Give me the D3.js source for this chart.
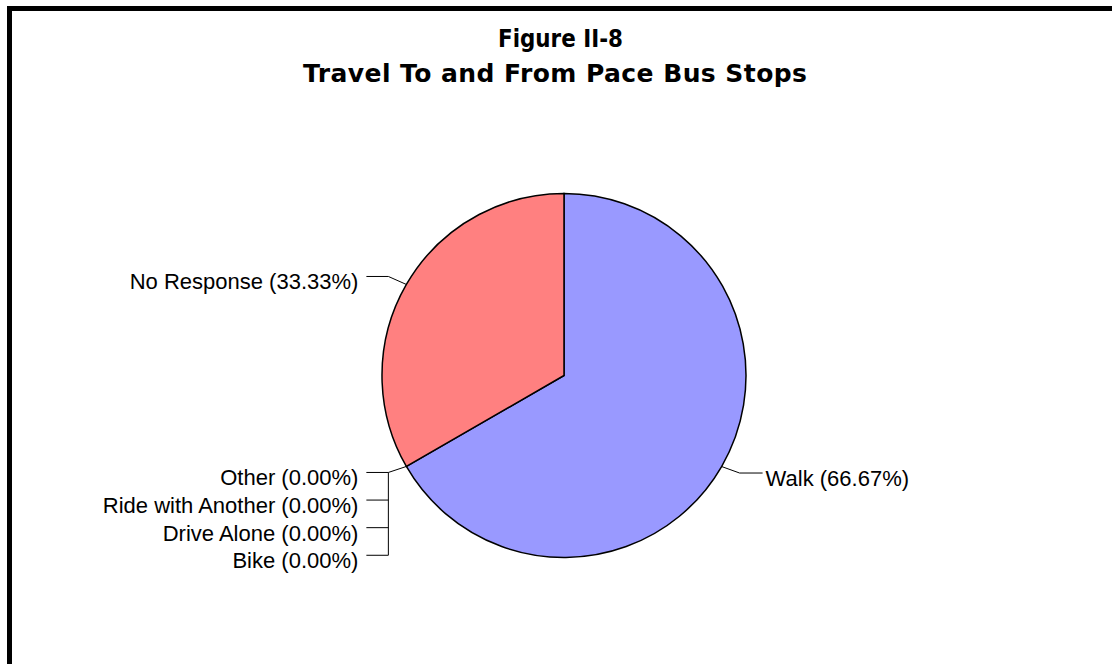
<!DOCTYPE html>
<html><head><meta charset="utf-8">
<script src="https://cdn.jsdelivr.net/npm/d3@7"></script>
<style>
html,body{margin:0;padding:0;background:#fff;overflow:hidden}
text{font-family:"Liberation Sans",Arial,sans-serif}
text.title{font-family:"DejaVu Sans","Liberation Sans",sans-serif}
</style></head>
<body><svg id="chart" width="1112" height="664"></svg>
<script>
const titleLines = ["Figure II-8", "Travel To and From Pace Bus Stops"];
const categories = ["Walk", "Bike", "Drive Alone", "Ride with Another", "Other", "No Response"];
const values = [66.67, 0, 0, 0, 0, 33.33];
const colors = ["#9999FF", "#9999FF", "#9999FF", "#9999FF", "#9999FF", "#FF8080"];

const svg = d3.select("#chart");
svg.append("rect").attr("x", 9.5).attr("y", 8.5).attr("width", 1300).attr("height", 900)
  .attr("fill", "#fff").attr("stroke", "#000").attr("stroke-width", 5);

const titleLayout = [
  { x: 560.5, y: 47, w: 125, adj: "spacingAndGlyphs" },
  { x: 555, y: 82, w: 504, adj: "spacing" }
];
svg.selectAll("text.title").data(titleLines).join("text")
  .attr("class", "title")
  .attr("x", (d, i) => titleLayout[i].x).attr("y", (d, i) => titleLayout[i].y)
  .attr("text-anchor", "middle")
  .attr("font-weight", "bold").attr("font-size", 25)
  .attr("textLength", (d, i) => titleLayout[i].w).attr("lengthAdjust", (d, i) => titleLayout[i].adj)
  .text(d => d);

const cx = 564, cy = 375.5, r = 182;
const data = categories.map((c, i) => ({ name: c, value: values[i], color: colors[i] }));
const pie = d3.pie().value(d => d.value).sort(null).startAngle(0).endAngle(2 * Math.PI);
const arcs = pie(data);
const arc = d3.arc().innerRadius(0).outerRadius(r);
const g = svg.append("g").attr("transform", `translate(${cx},${cy})`);
g.selectAll("path").data(arcs.filter(a => a.data.value > 0)).join("path")
  .attr("d", arc).attr("fill", d => d.data.color)
  .attr("stroke", "#000").attr("stroke-width", 1.5);

// label layout
const fmt = v => `(${v.toFixed(2)}%)`;
const fs = 22;
const lab = svg.append("g").attr("stroke-linejoin", "miter");
const zeroList = arcs.filter(a => a.data.value === 0).reverse();
arcs.forEach(a => {
  const mid = (a.startAngle + a.endAngle) / 2;
  const px = cx + r * Math.sin(mid), py = cy - r * Math.cos(mid);
  const left = Math.sin(mid) < 0 || a.data.value === 0;
  let ex, ey;
  if (a.data.value === 0) {
    const k = zeroList.indexOf(a);
    ex = px - 18; ey = py + 6 + k * 27.6;
    if (k === 0) {
      lab.append("line").attr("x1", px).attr("y1", py).attr("x2", ex).attr("y2", ey).attr("stroke", "#000");
    }
    if (k === zeroList.length - 1) {
      lab.append("line").attr("x1", ex).attr("y1", py + 6).attr("x2", ex).attr("y2", ey).attr("stroke", "#000");
    }
  } else {
    ex = px + (left ? -18 : 18);
    ey = py + (py < cy ? -8 : 6.5);
    lab.append("line").attr("x1", px).attr("y1", py).attr("x2", ex).attr("y2", ey).attr("stroke", "#000");
  }
  const hx = left ? ex - 22 : ex + 23;
  lab.append("line").attr("x1", ex).attr("y1", ey).attr("x2", hx).attr("y2", ey).attr("stroke", "#000");
  lab.append("text").attr("x", left ? hx - 8 : hx + 3).attr("y", ey + 13)
    .attr("text-anchor", left ? "end" : "start").attr("font-size", fs).attr("fill", "#000")
    .text(`${a.data.name} ${fmt(a.data.value)}`);
});
</script></body></html>
